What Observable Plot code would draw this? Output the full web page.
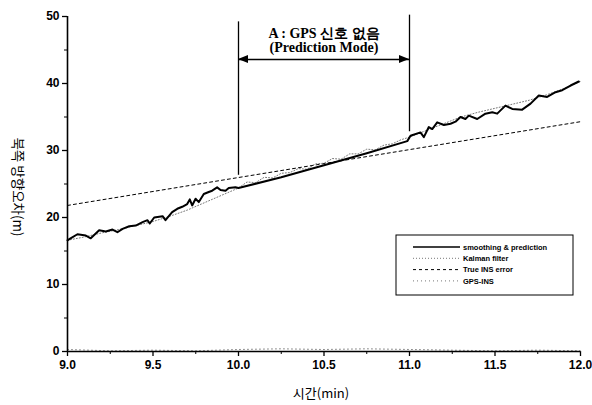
<!DOCTYPE html>
<html><head><meta charset="utf-8">
<script src="https://cdn.jsdelivr.net/npm/d3@7"></script>
<script src="https://cdn.jsdelivr.net/npm/@observablehq/plot@0.6"></script>
<style>body{margin:0;background:#fff} svg{display:block}</style>
</head><body><div id="chart"></div>
<script>
// smoothing & prediction
const smoothT = [9.0,9.013,9.058,9.107,9.136,9.185,9.224,9.263,9.292,9.322,9.361,9.399,9.439,9.468,9.481,9.507,9.556,9.573,9.612,9.642,9.671,9.700,9.715,9.729,9.749,9.768,9.797,9.826,9.846,9.875,9.895,9.924,9.943,9.982,10.0,10.25,10.5,10.75,10.987,11.006,11.064,11.084,11.113,11.133,11.162,11.201,11.240,11.269,11.298,11.327,11.347,11.396,11.444,11.484,11.513,11.561,11.601,11.659,11.708,11.756,11.805,11.854,11.893,11.942,11.990];
const smoothV = [16.6,16.8,17.5,17.3,16.9,18.1,17.9,18.2,17.8,18.3,18.7,18.8,19.3,19.6,19.1,20.0,20.2,19.6,20.8,21.3,21.6,22.0,22.7,21.8,22.8,22.3,23.5,23.8,24.0,24.5,24.1,24.0,24.4,24.5,24.4,26.0,27.8,29.6,31.4,32.2,32.7,32.0,33.5,33.2,34.2,33.8,34.0,34.3,35.0,34.7,35.2,34.7,35.5,35.7,35.5,36.7,36.2,36.1,37.0,38.2,38.0,38.7,39.0,39.7,40.3];
// Kalman filter
const kalmanT = [9.0,9.1,9.2,9.3,9.4,9.5,9.6,9.7,9.8,9.9,10.0,10.05,10.1,10.15,10.2,10.25,10.3,10.35,10.4,10.45,10.5,10.55,10.6,10.65,10.7,10.75,10.8,10.85,10.9,10.95,11.0,11.1,11.2,11.3,11.4,11.5,11.6,11.7,11.8,11.9,12.0];
const kalmanV = [16.6,17.1,17.7,18.2,18.8,19.4,20.2,21.1,22.2,23.3,24.4,25.3,25.2,26.0,25.9,26.6,26.7,27.3,27.2,28.0,28.1,28.8,28.7,29.5,29.5,30.2,30.1,30.8,31.0,31.6,32.0,33.0,34.0,35.0,35.7,36.3,36.9,37.5,38.3,39.2,40.3];
// True INS error
const insT = [9.0, 12.0];
const insV = [21.8, 34.3];
// GPS-INS
const gpsT = [9.0,9.25,9.5,9.75,10.0,10.25,10.5,10.75,11.0,11.25,11.5,11.75,12.0];
const gpsV = [0.3,0.1,0.2,0.1,0.3,0.4,0.3,0.4,0.3,0.2,0.1,0.2,0.1];

const xTicks = [9.0,9.5,10.0,10.5,11.0,11.5,12.0];
const xMinor = [9.25,9.75,10.25,10.75,11.25,11.75];
const yTicks = [0,10,20,30,40,50];
const yMinor = [5,15,25,35,45];

// annotation A: GPS outage window
const outageStart = 10.0, outageEnd = 11.0;
const outageTop = [49.2, 50.2];
const outageBottom = [26.3, 32.8];
const arrowY = 43.6;
const noteLines = ["A : GPS 신호 없음", "(Prediction Mode)"];
const noteY = [47.4, 45.3];

const legendLabels = ["smoothing & prediction","Kalman filter","True INS error","GPS-INS"];

const toRows = (T, V) => T.map((t, i) => ({t, v: V[i]}));

const plot = Plot.plot({
  width: 592, height: 405,
  marginLeft: 67, marginRight: 12, marginTop: 16, marginBottom: 54,
  x: {domain: [9, 12]},
  y: {domain: [0, 50]},
  style: {fontFamily: "Liberation Sans, Arial, sans-serif", fontSize: "12px", fontWeight: "bold", color: "#000", background: "#fff"},
  marks: [
    Plot.axisX(xTicks, {tickSize: 5, tickPadding: 4, tickFormat: d => d.toFixed(1), label: null, strokeWidth: 1.3}),
    Plot.axisX(xMinor, {tickSize: 3, tickFormat: () => "", label: null}),
    Plot.axisY(yTicks, {tickSize: 5, tickPadding: 3, label: null, strokeWidth: 1.3}),
    Plot.axisY(yMinor, {tickSize: 3, tickFormat: () => "", label: null}),
    Plot.line(toRows(gpsT, gpsV), {x: "t", y: "v", stroke: "#888", strokeWidth: 1, strokeDasharray: "1,3"}),
    Plot.line(toRows(insT, insV), {x: "t", y: "v", stroke: "#000", strokeWidth: 1, strokeDasharray: "3,3"}),
    Plot.line(toRows(kalmanT, kalmanV), {x: "t", y: "v", stroke: "#777", strokeWidth: 1, strokeDasharray: "1,2"}),
    Plot.line(toRows(smoothT, smoothV), {x: "t", y: "v", stroke: "#000", strokeWidth: 2}),
    Plot.ruleX([9], {stroke: "#000", strokeWidth: 1.6}),
    Plot.ruleY([0], {stroke: "#000", strokeWidth: 1.6}),
    Plot.ruleX([outageStart, outageEnd], {y1: outageBottom, y2: outageTop, stroke: "#000", strokeWidth: 1.3}),
    Plot.ruleY([arrowY], {x1: outageStart, x2: outageEnd, stroke: "#000", strokeWidth: 1.5}),
    Plot.text(noteLines, {x: (outageStart + outageEnd) / 2, y: (d, i) => noteY[i], text: d => d,
      fontFamily: "Liberation Serif, Times New Roman, serif", fontSize: 14, fontWeight: "bold"})
  ]
});

const svg = d3.select(plot);
const sx = plot.scale("x"), sy = plot.scale("y");
// arrowheads
const ay = sy.apply(arrowY);
[[sx.apply(outageStart), 1], [sx.apply(outageEnd), -1]].forEach(([x, dir]) => {
  svg.append("path").attr("d", `M${x},${ay} L${x + dir * 10},${ay - 4} L${x + dir * 10},${ay + 4} Z`).attr("fill", "#000");
});
// axis titles
svg.append("text").attr("x", 321).attr("y", 398).attr("text-anchor", "middle")
  .attr("font-family", "Noto Sans CJK KR, sans-serif").attr("font-weight", "normal").attr("font-size", 13).text("시간(min)");
svg.append("text").attr("transform", "translate(13,187) rotate(90)").attr("text-anchor", "middle")
  .attr("font-family", "Noto Sans CJK KR, sans-serif").attr("font-weight", "normal").attr("font-size", 13.5).text("북쪽 방향오차(m)");
// legend
const lg = svg.append("g").attr("transform", "translate(396,235)");
lg.append("rect").attr("width", 177).attr("height", 60).attr("fill", "#fff").attr("stroke", "#000").attr("stroke-width", 1);
const styles = [
  {stroke: "#000", w: 1.6, dash: null},
  {stroke: "#777", w: 1, dash: "1,2"},
  {stroke: "#000", w: 1, dash: "3,3"},
  {stroke: "#777", w: 1, dash: "1,3"}
];
legendLabels.forEach((lab, i) => {
  const y = 12 + i * 11.3;
  const l = lg.append("line").attr("x1", 17).attr("x2", 64).attr("y1", y).attr("y2", y)
    .attr("stroke", styles[i].stroke).attr("stroke-width", styles[i].w);
  if (styles[i].dash) l.attr("stroke-dasharray", styles[i].dash);
  lg.append("text").attr("x", 67).attr("y", y + 2.7).attr("text-anchor", "start")
    .attr("font-family", "Liberation Sans, Arial, sans-serif")
    .attr("font-size", 7.5).attr("font-weight", "bold").text(lab);
});
document.getElementById("chart").appendChild(plot);
</script>
</body></html>
